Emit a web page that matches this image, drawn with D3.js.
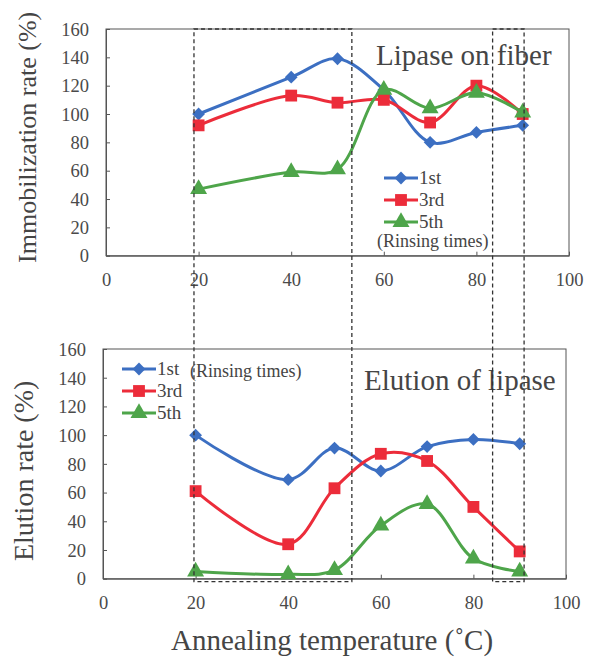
<!DOCTYPE html>
<html>
<head>
<meta charset="utf-8">
<script src="https://cdn.jsdelivr.net/npm/d3@7"></script>
<style>
  html, body { margin: 0; padding: 0; background: #fff; }
  svg { display: block; }
  svg text { font-family: "Liberation Serif", "Times New Roman", serif !important; fill: #454545; }
</style>
</head>
<body>
<svg id="chart" width="596" height="658"></svg>
<script>
// ---------- data ----------
const temps = [20, 40, 50, 60, 70, 80, 90];
const seriesNames = ["1st", "3rd", "5th"];
const immob1st = [100, 126, 139, 117, 80, 87, 92];
const immob3rd = [92, 113, 108, 110, 94, 120, 100];
const immob5th = [47, 59, 61, 117, 104, 115, 101];
const elut1st = [100, 69, 91, 75, 92, 97, 94];
const elut3rd = [61, 24, 63, 87, 82, 50, 19];
const elut5th = [5, 3, 6, 37, 52, 14, 5];
const xTicks = [0, 20, 40, 60, 80, 100];
const yTicks = [0, 20, 40, 60, 80, 100, 120, 140, 160];
// dashed annotation boxes (temperature ranges)
const boxRanges = [[19, 53.1], [83.5, 90.3]];

const colors = ["#3c6fc2", "#ec2c3a", "#4ea54a"];
const shapes = [d3.symbolSquare, d3.symbolSquare, d3.symbolTriangle];
const shapeSizes = [82, 140, 125];
const shapeRot = [45, 0, 0];

const svg = d3.select("#chart");

function panel(cfg) {
  const x = d3.scaleLinear().domain([0, 100]).range([cfg.left, cfg.right]);
  const y = d3.scaleLinear().domain([0, 160]).range([cfg.bottom, cfg.top]);
  const g = svg.append("g");

  // frame
  g.append("rect")
    .attr("x", cfg.left).attr("y", cfg.top)
    .attr("width", cfg.right - cfg.left).attr("height", cfg.bottom - cfg.top)
    .attr("fill", "none").attr("stroke", "#555").attr("stroke-width", 1);

  // axes
  const xa = g.append("g").attr("transform", `translate(0,${cfg.bottom})`)
    .call(d3.axisBottom(x).tickValues(xTicks).tickSizeInner(-4).tickSizeOuter(0).tickPadding(17));
  const ya = g.append("g").attr("transform", `translate(${cfg.left},0)`)
    .call(d3.axisLeft(y).tickValues(yTicks).tickSizeInner(-4).tickSizeOuter(0).tickPadding(17));
  [xa, ya].forEach(a => {
    a.attr("font-family", null);
    a.select(".domain").attr("stroke", "#555");
    a.selectAll(".tick line").attr("stroke", "#555");
    a.selectAll(".tick text").attr("font-size", 18.5).style("fill", "#4a4a4a");
  });
  xa.selectAll(".tick text").attr("dy", "0.71em");
  ya.selectAll(".tick text").attr("dy", "0.34em");

  // series
  const line = d3.line().x((d, i) => x(temps[i])).y(d => y(d)).curve(d3.curveCatmullRom.alpha(0.5));
  cfg.series.forEach((vals, k) => {
    g.append("path").datum(vals).attr("d", line)
      .attr("fill", "none").attr("stroke", colors[k]).attr("stroke-width", 3);
    g.selectAll(null).data(vals).enter().append("path")
      .attr("d", d3.symbol().type(shapes[k]).size(shapeSizes[k]))
      .attr("transform", (d, i) => `translate(${x(temps[i])},${y(d)}) rotate(${shapeRot[k]})`)
      .attr("fill", colors[k]);
  });

  // legend
  seriesNames.forEach((name, k) => {
    const ly = cfg.legY + k * 22;
    g.append("line").attr("x1", cfg.legX).attr("x2", cfg.legX + 34)
      .attr("y1", ly).attr("y2", ly).attr("stroke", colors[k]).attr("stroke-width", 3);
    g.append("path").attr("d", d3.symbol().type(shapes[k]).size(shapeSizes[k]))
      .attr("transform", `translate(${cfg.legX + 17},${ly}) rotate(${shapeRot[k]})`).attr("fill", colors[k]);
    g.append("text").attr("x", cfg.legX + 35).attr("y", ly + 6)
      .attr("font-size", 19).text(name);
  });
  g.append("text").attr("x", cfg.rinseX).attr("y", cfg.rinseY)
    .attr("font-size", 18).text("(Rinsing times)");

  // title
  g.append("text").attr("x", cfg.titleX).attr("y", cfg.titleY)
    .attr("font-size", 29).text(cfg.title);

  // y label
  g.append("text")
    .attr("transform", `translate(${cfg.ylabX},${(cfg.top + cfg.bottom) / 2 + cfg.ylabDy}) rotate(-90)`)
    .attr("text-anchor", "middle").attr("font-size", cfg.ylabSize).text(cfg.ylabel);

  return { x, y };
}

const topPanel = panel({
  left: 106, right: 569, top: 29, bottom: 255.7,
  series: [immob1st, immob3rd, immob5th],
  legX: 384, legY: 178, rinseX: 377, rinseY: 247,
  title: "Lipase on fiber", titleX: 376, titleY: 65,
  ylabel: "Immobilization rate (%)", ylabX: 36, ylabDy: -5, ylabSize: 26
});

const botPanel = panel({
  left: 103, right: 566, top: 349, bottom: 578.7,
  series: [elut1st, elut3rd, elut5th],
  legX: 122, legY: 369, rinseX: 190, rinseY: 377,
  title: "Elution of lipase", titleX: 364, titleY: 390,
  ylabel: "Elution rate (%)", ylabX: 33, ylabDy: 7, ylabSize: 28
});

// dashed annotation boxes spanning both panels
const yTopPx = topPanel.y(160);
const yBotPx = botPanel.y(-2.1);
boxRanges.forEach(r => {
  const x0 = topPanel.x(r[0]), x1 = topPanel.x(r[1]);
  svg.append("rect").attr("x", x0).attr("y", yTopPx)
    .attr("width", x1 - x0).attr("height", yBotPx - yTopPx)
    .attr("fill", "none").attr("stroke", "#333").attr("stroke-width", 1.3)
    .attr("stroke-dasharray", "4,3");
});

// x axis title
svg.append("text").attr("x", 332).attr("y", 650).attr("text-anchor", "middle")
  .attr("font-size", 29)
  .text("Annealing temperature (\u02DAC)");
</script>
</body>
</html>
